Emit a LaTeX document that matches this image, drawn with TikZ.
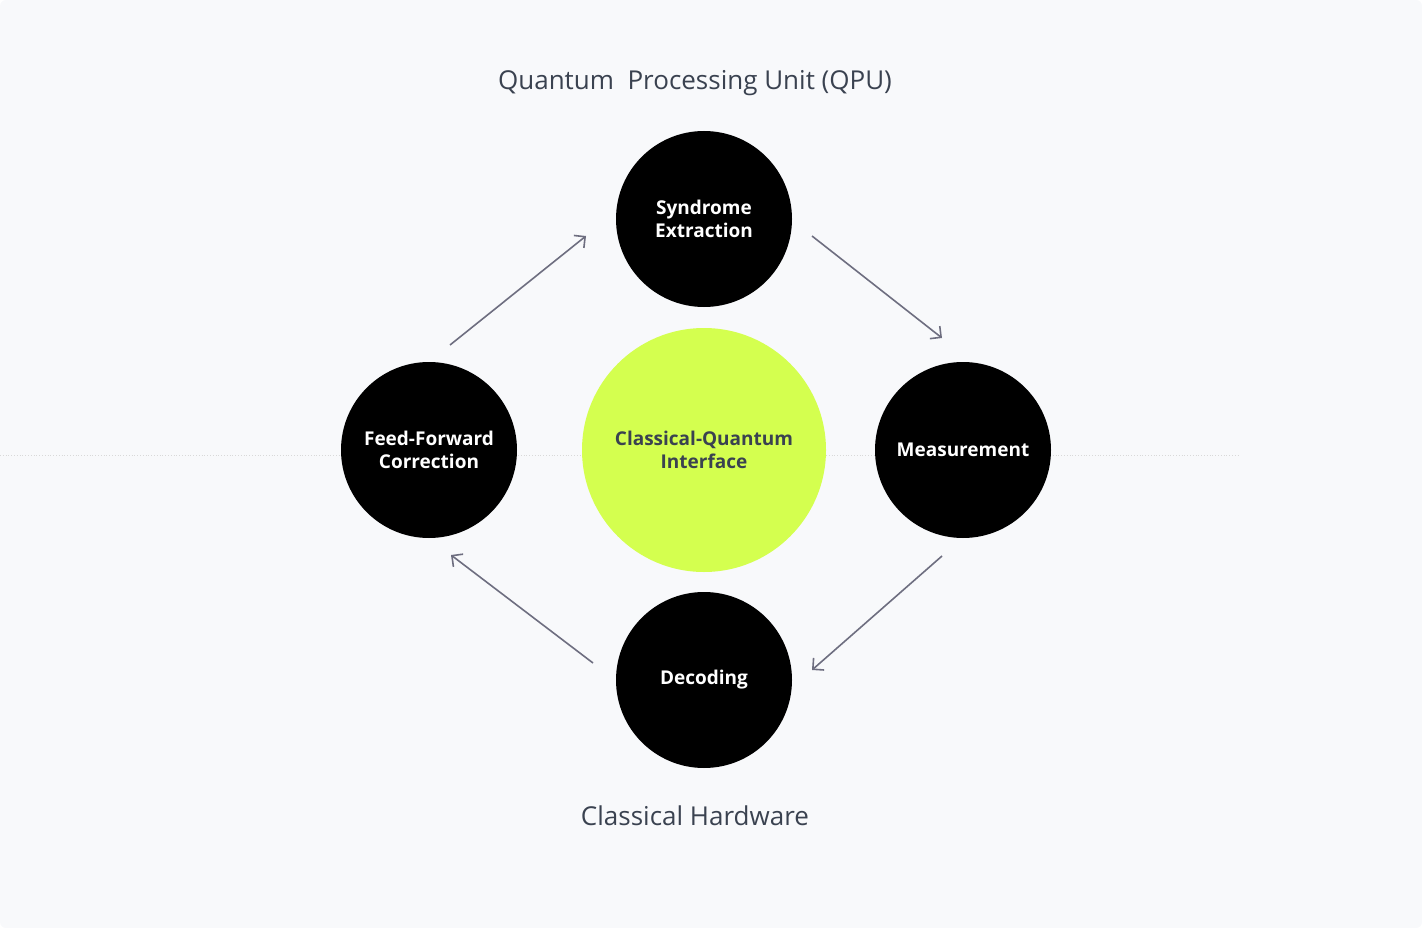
\documentclass[tikz,border=0pt]{standalone}
\usepackage{fontspec}
\setmainfont{Open Sans}
\usetikzlibrary{arrows.meta}
\definecolor{bg}{HTML}{F8F9FB}
\definecolor{lime}{HTML}{D4FF4F}
\definecolor{arr}{HTML}{6E6E80}
\definecolor{ttl}{HTML}{3A4250}
\tikzset{
    stage/.style={circle, fill=black, minimum size=176pt, inner sep=0pt, align=center,
        text=white, font=\fontsize{19}{23}\selectfont\bfseries},
    flow/.style={draw=arr, line width=1.6pt, -{Straight Barb[length=8pt,width=16pt]}},
    heading/.style={text=ttl, font=\fontsize{26}{30}\selectfont}
}
\begin{document}
\begin{tikzpicture}[x=1pt, y=-1pt]
    \fill[bg, rounded corners=6pt] (0,0) rectangle (1422,928);
    \useasboundingbox (0,0) rectangle (1422,928);
    \draw[black!15, dotted, line width=0.8pt] (0,455) -- (1240,455);

    \node[heading] (qpu) at (695,83) {Quantum\ \ Processing Unit (QPU)};
    \node[heading] (hw) at (695,816) {Classical Hardware};

    \node[circle, fill=lime, minimum size=244pt, align=center, text=ttl,
        font=\fontsize{19}{23}\selectfont\bfseries] (cqi) at (704,450) {Classical-Quantum\\Interface};
    \node[stage] (syn) at (704,219) {Syndrome\\Extraction};
    \node[stage] (meas) at (963,450) {Measurement};
    \node[stage] (dec) at (704,680) {Decoding};
    \node[stage] (ffc) at (429,450) {Feed-Forward\\Correction};

    % arrow ends
    \coordinate (a1) at (450,345); \coordinate (b1) at (586,236);
    \coordinate (a2) at (812,236); \coordinate (b2) at (942,338);
    \coordinate (a3) at (942,556); \coordinate (b3) at (812,670);
    \coordinate (a4) at (593,663); \coordinate (b4) at (451,555);
    \draw[flow] (a1) -- (b1);
    \draw[flow] (a2) -- (b2);
    \draw[flow] (a3) -- (b3);
    \draw[flow] (a4) -- (b4);
\end{tikzpicture}
\end{document}
